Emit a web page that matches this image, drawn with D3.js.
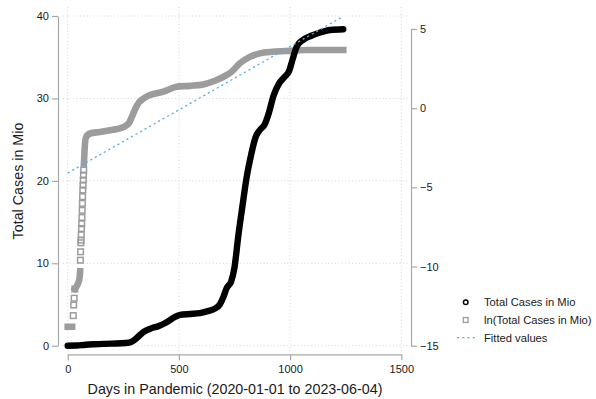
<!DOCTYPE html>
<html>
<head>
<meta charset="utf-8">
<script src="https://cdn.jsdelivr.net/npm/d3@7"></script>
<style>
  html, body { margin: 0; padding: 0; background: #fff; }
  svg { display: block; font-family: "Liberation Sans", Arial, Helvetica, sans-serif; }
</style>
</head>
<body>
<svg id="chart" width="596" height="399"></svg>
<script>
// ---------- data ----------
// Total cases (millions), drawn as dense hollow-circle markers (left axis)
const casesDays   = [0, 40, 80, 120, 200, 260, 285, 305, 325, 350, 375, 410, 445, 480, 505, 550, 594, 630, 662, 684, 700, 715, 735, 750, 767, 785, 805, 825, 845, 865, 885, 905, 925, 950, 975, 995, 1012, 1030, 1058, 1095, 1135, 1180, 1239];
const casesValues = [0, 0.02, 0.12, 0.18, 0.25, 0.33, 0.45, 0.8, 1.3, 1.8, 2.1, 2.4, 2.85, 3.45, 3.75, 3.85, 3.95, 4.2, 4.5, 5.0, 5.9, 7.0, 7.8, 9.5, 13.3, 16.8, 20.5, 23.2, 25.3, 26.2, 26.8, 28.3, 30.3, 31.8, 32.6, 33.3, 34.8, 36.3, 37.1, 37.6, 38.0, 38.3, 38.4];

// ln(total cases in Mio), dense band parts (right axis); NaN marks a gap
const lnBandDays   = [0, 20, NaN, 33, 40, 47, 53, 56, NaN, 73, 76, 82, 100, 145, 204, 235, 260, 275, 290, 305, 320, 340, 370, 430, 490, 549, 609, 662, 714, 737, 774, 819, 864, 924, 999, 1074, 1239];
const lnBandValues = [-13.8, -13.8, NaN, -11.4, -11.25, -11.05, -10.75, -10.3, NaN, -3.5, -2.6, -1.85, -1.6, -1.5, -1.36, -1.28, -1.12, -0.95, -0.5, 0.0, 0.35, 0.6, 0.83, 1.04, 1.35, 1.41, 1.5, 1.73, 2.09, 2.3, 2.83, 3.24, 3.46, 3.56, 3.62, 3.67, 3.67];

// ln(total cases in Mio), individually visible early markers (right axis)
const lnPointDays   = [25, 27, 29, 32, 57, 58, 59, 60, 61, 62, 63, 64, 65, 66, 67, 68, 69, 70, 71, 72];
const lnPointValues = [-13.1, -12.43, -12.0, -11.42, -9.6, -9.07, -8.5, -8.33, -8.0, -7.6, -7.3, -6.9, -6.45, -6.01, -5.59, -5.17, -4.86, -4.54, -4.23, -3.91];

// Linear fit of ln(total cases) on days (right axis)
const fitDays   = [0, 1239];
const fitValues = [-4.1, 5.8];

const xTicks      = [0, 500, 1000, 1500];
const leftTicks   = [0, 10, 20, 30, 40];
const rightTicks  = [-15, -10, -5, 0, 5];
const legendItems = ["Total Cases in Mio", "ln(Total Cases in Mio)", "Fitted values"];

// ---------- layout ----------
const svg = d3.select("#chart");
const C = { black: "#000", grey: "#9c9c9c", blue: "#5aaee3", axis: "#a8a8a8", grid: "#d4d4d4", text: "#1a1a1a" };

const x  = d3.scaleLinear().domain([0, 1500]).range([67.7, 401.3]);
const yL = d3.scaleLinear().domain([0, 40]).range([345.7, 16]);
const yR = d3.scaleLinear().domain([-15, 5]).range([345.7, 29]);

const plot = { x0: 63, x1: 408, y0: 7, y1: 352 };
const fmt = d3.format("d");

// grid
const grid = svg.append("g");
grid.selectAll("line.h").data(leftTicks).join("line")
  .attr("x1", plot.x0).attr("x2", plot.x1)
  .attr("y1", d => yL(d)).attr("y2", d => yL(d))
  .attr("stroke", C.grid).attr("stroke-width", 1).attr("stroke-dasharray", "1,2.4");
grid.selectAll("line.v").data(xTicks).join("line")
  .attr("x1", d => x(d)).attr("x2", d => x(d))
  .attr("y1", plot.y0).attr("y2", plot.y1)
  .attr("stroke", C.grid).attr("stroke-width", 1).attr("stroke-dasharray", "1,2.4");

// axes
function styleAxis(g) {
  g.selectAll("path.domain").attr("stroke", C.axis).attr("stroke-width", 1.2);
  g.selectAll(".tick line").attr("stroke", C.axis).attr("stroke-width", 1.2);
  g.selectAll(".tick text").attr("fill", C.text).style("font-size", "11px")
    .style("font-family", '"Liberation Sans", Arial, sans-serif');
}
svg.append("g").attr("transform", "translate(58,0)")
  .call(d3.axisLeft(yL).tickValues(leftTicks).tickFormat(fmt).tickSize(6).tickSizeOuter(0).tickPadding(3))
  .call(styleAxis);
svg.append("g").attr("transform", "translate(411,0)")
  .call(d3.axisRight(yR).tickValues(rightTicks).tickFormat(fmt).tickSize(6).tickSizeOuter(0).tickPadding(3))
  .call(styleAxis);
svg.append("g").attr("transform", "translate(0,354.3)")
  .call(d3.axisBottom(x).tickValues(xTicks).tickFormat(fmt).tickSize(6).tickSizeOuter(0).tickPadding(5))
  .call(styleAxis);

// axis titles
svg.append("text").attr("x", 235).attr("y", 394)
  .attr("text-anchor", "middle").attr("fill", C.text).style("font-size", "14.3px")
  .text("Days in Pandemic (2020-01-01 to 2023-06-04)");
svg.append("text").attr("transform", "translate(23,181) rotate(-90)")
  .attr("text-anchor", "middle").attr("fill", C.text).style("font-size", "14.3px")
  .text("Total Cases in Mio");

// ---------- series ----------
const band = d3.zip(lnBandDays, lnBandValues);
const lnLine = d3.line()
  .defined(d => !isNaN(d[0]))
  .x(d => x(d[0])).y(d => yR(d[1]))
  .curve(d3.curveMonotoneX);
svg.append("path").datum(band)
  .attr("d", lnLine)
  .attr("fill", "none").attr("stroke", C.grey).attr("stroke-width", 6.6)
  .attr("stroke-linecap", "square").attr("stroke-linejoin", "round");

const sq = 5.6;
svg.append("g").selectAll("rect").data(d3.zip(lnPointDays, lnPointValues)).join("rect")
  .attr("x", d => x(d[0]) - sq / 2).attr("y", d => yR(d[1]) - sq / 2)
  .attr("width", sq).attr("height", sq)
  .attr("fill", "none").attr("stroke", C.grey).attr("stroke-width", 1.5);

const casesLine = d3.line()
  .x(d => x(d[0])).y(d => yL(d[1]))
  .curve(d3.curveMonotoneX);
svg.append("path").datum(d3.zip(casesDays, casesValues))
  .attr("d", casesLine)
  .attr("fill", "none").attr("stroke", C.black).attr("stroke-width", 6.4)
  .attr("stroke-linecap", "round").attr("stroke-linejoin", "round");

const fitLine = d3.line().x(d => x(d[0])).y(d => yR(d[1]));
svg.append("path").datum(d3.zip(fitDays, fitValues))
  .attr("d", fitLine)
  .attr("fill", "none").attr("stroke", C.blue).attr("stroke-width", 1.3)
  .attr("stroke-dasharray", "2.2,3");

// ---------- legend ----------
const lg = svg.append("g");
const ly = [302.3, 320, 337.7];
lg.append("circle").attr("cx", 465.7).attr("cy", ly[0]).attr("r", 2.3)
  .attr("fill", "none").attr("stroke", C.black).attr("stroke-width", 1.5);
lg.append("rect").attr("x", 465.7 - 2.4).attr("y", ly[1] - 2.4).attr("width", 4.8).attr("height", 4.8)
  .attr("fill", "none").attr("stroke", C.grey).attr("stroke-width", 1.3);
lg.append("line").attr("x1", 457).attr("x2", 475).attr("y1", ly[2]).attr("y2", ly[2])
  .attr("stroke", C.blue).attr("stroke-width", 1.3).attr("stroke-dasharray", "2.2,3");
lg.selectAll("text").data(legendItems).join("text")
  .attr("x", 484).attr("y", (d, i) => ly[i]).attr("dy", "0.35em")
  .attr("fill", C.text).style("font-size", "11.2px")
  .text(d => d);
</script>
</body>
</html>
